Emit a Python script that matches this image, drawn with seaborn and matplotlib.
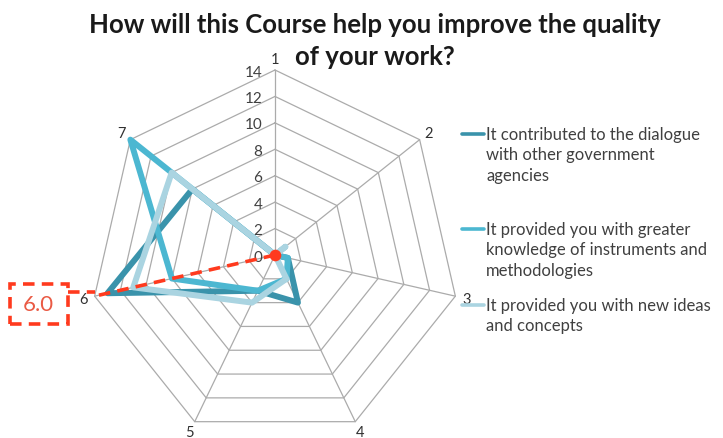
import numpy as np
import pandas as pd
import matplotlib
matplotlib.use("Agg")
import matplotlib.pyplot as plt
import seaborn as sns
from matplotlib.lines import Line2D
from matplotlib.patches import Rectangle

# chart values
axis_labels = ["1", "2", "3", "4", "5", "6", "7"]
dialogue = [0, 0, 1, 4, 3, 13, 8]
knowledge = [0, 0, 1, 2, 3, 8, 14]
new_ideas = [0, 1, 0, 2, 4, 11, 10]
series_names = [
    ["It contributed to the dialogue", "with other government", "agencies"],
    ["It provided you with greater", "knowledge of instruments and", "methodologies"],
    ["It provided you with new ideas", "and concepts"],
]
series_colors = ["#3a93ab", "#4cb7d1", "#aad4e1"]
r_ticks = [0, 2, 4, 6, 8, 10, 12, 14]
r_max = 14
highlight_axis = "6"
highlight_text = "6.0"
title_lines = ["How will this Course help you improve the quality", "of your work?"]

sns.set_style("white")
plt.rcParams["font.family"] = ["Lato", "DejaVu Sans"]

W, H = 723, 439
fig = plt.figure(figsize=(W / 100, H / 100), dpi=100)
ax = fig.add_axes([0, 0, 1, 1])

# pixel layout of the radar
cx, cy = 275, H - 256
px = 185 / r_max

theta = 2 * np.pi * np.arange(len(axis_labels)) / len(axis_labels)
tc = np.append(theta, theta[0])

grid_col = "#ababab"
for r in r_ticks[1:]:
    ax.plot(r * np.sin(tc), r * np.cos(tc), color=grid_col, lw=0.9, zorder=1)
for t in theta:
    ax.plot([0, r_max * np.sin(t)], [0, r_max * np.cos(t)], color=grid_col, lw=0.9, zorder=1)

for r in r_ticks:
    ax.text(-0.95, r - 0.12, str(r), ha="right", va="center", fontsize=11, color="#404040", zorder=2)
for t, lab in zip(theta, axis_labels):
    rr = r_max + 0.85
    ax.text(rr * np.sin(t), rr * np.cos(t), lab, ha="center", va="center", fontsize=10.5, color="#303030")

# series polygons
rows = []
for name, vals in zip(series_names, [dialogue, knowledge, new_ideas]):
    v = np.append(vals, vals[0])
    for i, (r, t) in enumerate(zip(v, tc)):
        rows.append({"series": " ".join(name), "i": i, "x": r * np.sin(t), "y": r * np.cos(t)})
df = pd.DataFrame(rows)

n_before = len(ax.lines)
sns.lineplot(data=df, x="x", y="y", hue="series", palette=series_colors,
             sort=False, estimator=None, lw=4.3, legend=False, ax=ax, zorder=3)
for ln in ax.lines[n_before:]:
    ln.set_solid_joinstyle("round")
    ln.set_solid_capstyle("round")

# red highlight of the axis
red = "#ff3a1e"
k = axis_labels.index(highlight_axis)
vx, vy = r_max * np.sin(theta[k]), r_max * np.cos(theta[k])
ax.plot([0, vx], [0, vy], color=red, ls=(0, (3.2, 2)), lw=2.6, zorder=4)
ax.scatter([0], [0], s=70, color=red, zorder=5, linewidths=0)

bw, bh = 58 / px, 40 / px
bx1 = vx - 27 / px
by_c = vy - 8 / px
ax.plot([bx1, vx], [vy + 4 / px, vy + 4 / px], color=red, ls=(0, (3.2, 2)), lw=2.6, zorder=4)
ax.add_patch(Rectangle((bx1 - bw, by_c - bh / 2), bw, bh, fill=False, edgecolor=red,
                       ls=(0, (3.2, 2)), lw=2.6, zorder=4))
ax.text(bx1 - bw / 2, by_c, highlight_text, ha="center", va="center", fontsize=16,
        color="#ea5a44", zorder=5)

ax.set_xlim(-cx / px, (W - cx) / px)
ax.set_ylim(-cy / px, (H - cy) / px)
ax.axis("off")

for line, yt in zip(title_lines, [25, 57]):
    fig.text(375 / W, 1 - yt / H, line, ha="center", va="center", fontsize=18.5,
             fontweight="bold", color="#1a1a1a")

# legend, handle next to the first text line
leg_tops = [135, 230, 306]
pitch = 20.5
for lines, col, yt in zip(series_names, series_colors, leg_tops):
    fy = 1 - yt / H
    fig.add_artist(Line2D([462 / W, 484 / W], [fy, fy], color=col, lw=2.6))
    for j, txt in enumerate(lines):
        fig.text(486 / W, 1 - (yt + j * pitch) / H, txt, ha="left", va="center",
                 fontsize=12, color="#404040")

fig.savefig("out.png", dpi=100)
